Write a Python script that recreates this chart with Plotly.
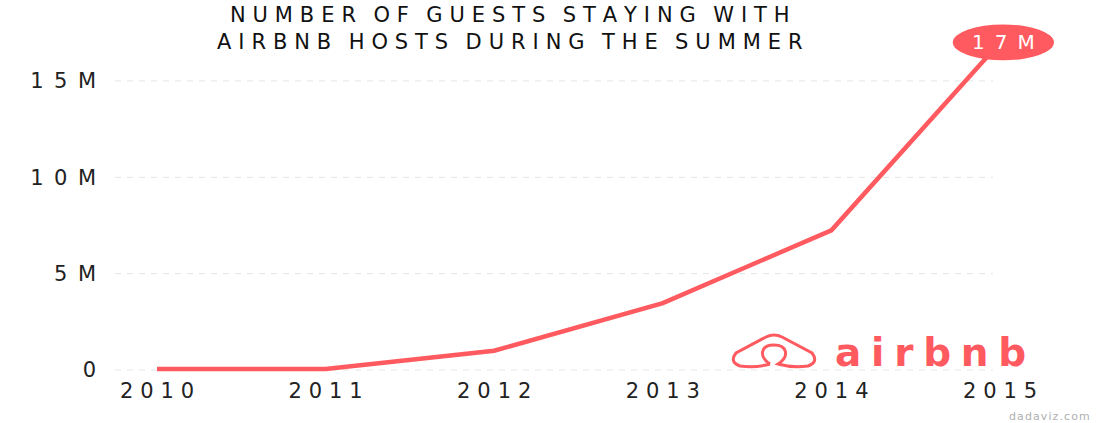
import plotly.graph_objects as go

# ---- data ----
years = [2010, 2011, 2012, 2013, 2014, 2015]
guests = [47000, 47000, 1000000, 3470000, 7250000, 17000000]
y_tickvals = [0, 5000000, 10000000, 15000000]
y_ticktext = ["0", "5M", "10M", "15M"]
title_lines = ["NUMBER OF GUESTS STAYING WITH", "AIRBNB HOSTS DURING THE SUMMER"]
end_label = "17M"
brand = "airbnb"
credit = "dadaviz.com"

CORAL = "#FF5A5F"
W, H = 1101, 423
ML, MR, MT, MB = 115, 41, 15, 49
PW, PH = W - ML - MR, H - MT - MB
FONT = "DejaVu Sans"
SEP = "\u2004"


def spaced(s, sep=SEP, word="\u2002" + SEP):
    return word.join(sep.join(w) for w in s.split(" "))


def px(x):
    return (x - ML) / PW


def py(y):
    return (H - MB - y) / PH


fig = go.Figure()
fig.add_trace(go.Scatter(
    x=years, y=guests, mode="lines",
    line=dict(color=CORAL, width=4.5),
    cliponaxis=False, hoverinfo="skip", showlegend=False,
))

# dashed horizontal grid lines (stop just before the right edge)
for v in y_tickvals:
    fig.add_shape(type="line", xref="paper", yref="y", x0=0, x1=px(993), y0=v, y1=v,
                  line=dict(color="#e4e4e4", width=1, dash="6px,6px"), layer="below")

# end-value bubble
xe, ye = years[-1], guests[-1]
fig.add_shape(type="circle", xref="x", yref="y",
              x0=xe - 0.28, x1=xe + 0.32, y0=ye - 930000, y1=ye + 930000,
              fillcolor=CORAL, line=dict(width=0), layer="above")
fig.add_annotation(x=xe + 0.02, y=ye, xref="x", yref="y",
                   text=spaced(end_label, sep="\u2002"),
                   showarrow=False, xanchor="center", yanchor="middle",
                   font=dict(family=FONT, size=20, color="white"))

# title (one text, two lines)
fig.add_annotation(x=px(510), y=py(29), xref="paper", yref="paper",
                   text="<br>".join(spaced(t) for t in title_lines),
                   showarrow=False, align="center", xanchor="center", yanchor="middle",
                   font=dict(family=FONT, size=21, color="#111"))

# airbnb logo (Bélo) drawn as a path
pts = lambda x, y: f"{px(x):.5f},{py(y):.5f}"
belo = (
    f"M {pts(770,364)} Q {pts(756,368)} {pts(740,366)} Q {pts(729,362)} {pts(736,353)} "
    f"L {pts(766,337)} Q {pts(774,333)} {pts(782,337)} L {pts(812,353)} "
    f"Q {pts(819,362)} {pts(808,366)} Q {pts(792,368)} {pts(778,364)} "
    f"C {pts(790,356)} {pts(787,345)} {pts(774,345)} C {pts(761,345)} {pts(758,356)} {pts(770,364)}"
)
fig.add_shape(type="path", xref="paper", yref="paper", path=belo,
              line=dict(color=CORAL, width=3))
fig.add_annotation(x=px(833), y=py(352), xref="paper", yref="paper",
                   text=spaced(brand, sep="\u2005"), showarrow=False,
                   xanchor="left", yanchor="middle",
                   font=dict(family=FONT, size=39, color=CORAL, weight="bold"))

# credit
fig.add_annotation(x=px(1092), y=py(416), xref="paper", yref="paper",
                   text=spaced(credit, sep="\u200a"), showarrow=False,
                   xanchor="right", yanchor="middle",
                   font=dict(family=FONT, size=11, color="#b0b0b0"))

x0 = 2010 - (157 - ML) / 168.6
fig.update_layout(
    width=W, height=H,
    margin=dict(l=ML, r=MR, t=MT, b=MB),
    paper_bgcolor="white", plot_bgcolor="white",
    xaxis=dict(range=[x0, x0 + PW / 168.6], tickvals=years,
               ticktext=[spaced(str(y)) for y in years],
               showgrid=False, zeroline=False, showline=False, ticks="",
               ticklabelstandoff=2,
               tickfont=dict(family=FONT, size=21, color="#222")),
    yaxis=dict(range=[-(374 - 370) / 19.27e-6, (370 - MT) / 19.27e-6], tickvals=y_tickvals,
               ticktext=[spaced(t, sep="\u2002") for t in y_ticktext],
               showgrid=False, zeroline=False, showline=False, ticks="",
               ticklabelstandoff=18,
               tickfont=dict(family=FONT, size=21, color="#222")),
)

fig.write_html("out.html")
